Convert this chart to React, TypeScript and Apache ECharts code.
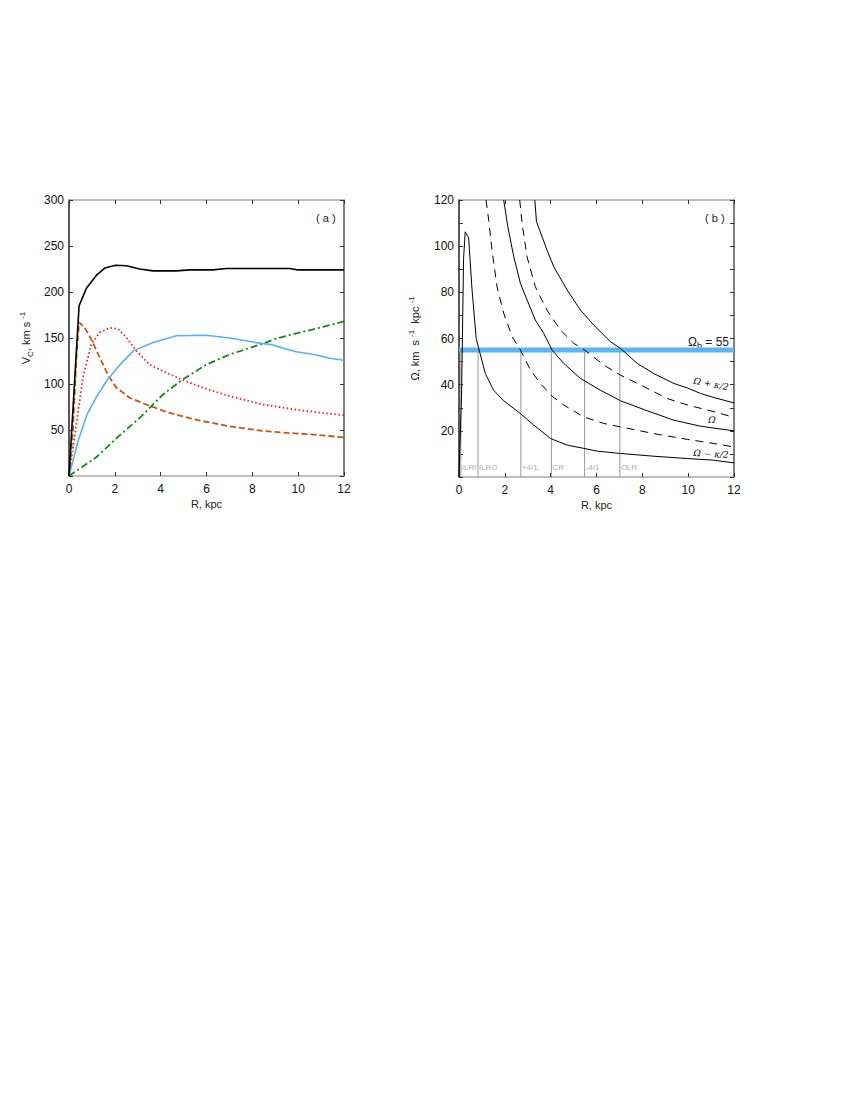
import React, { useEffect, useRef } from "react";
import * as echarts from "echarts";

// ---- Panel (a): rotation curve components, [R kpc, V km/s]
const totalV = [[0,0],[0.44,185],[0.76,204],[1.19,218],[1.56,226],[2.04,229],[2.5,228.5],[3.08,225],[3.67,223],[4.68,223],[5.27,224],[6.28,224],[6.87,225.6],[9.63,225.6],[10,224],[12,224]];
const diskV = [[0,0],[0.39,37.5],[0.79,67],[1.2,86],[1.63,103],[2.07,116.7],[2.8,136],[3.67,145],[4.68,152.4],[5.99,153],[7.0,150],[8.17,145],[8.9,142.5],[9.34,139],[9.92,135],[10.8,131.6],[11.37,128],[12,125.8]];
const bulgeV = [[0,0],[0.32,56],[0.61,107],[0.97,143],[1.34,156],[1.77,161],[2.14,160],[2.5,150.6],[2.94,136],[3.52,121],[4.1,114],[4.9,105],[5.85,96],[7.0,86.8],[8.47,77.7],[9.92,72],[11.08,68.5],[12,66]];
const nucleusV = [[0,0],[0.17,48],[0.32,128],[0.44,167],[0.68,161.5],[0.97,148.7],[1.34,128.7],[1.7,110],[2.07,96],[2.65,85],[3.37,77.7],[4.39,68.5],[5.56,61],[7.0,54],[8.47,49],[9.63,46.7],[10.36,45.6],[12,42]];
const haloV = [[0,0],[1.19,20.4],[2.07,41],[3.08,63],[4.1,88.6],[4.97,105],[5.99,121],[7.0,132],[8.47,144],[9.05,149.5],[9.92,155],[11.08,162],[12,168]];

// ---- Panel (b): angular velocities, [R kpc, km/s/kpc]
const omegaMinusK2 = [[0,0],[0.11,35],[0.2,94.7],[0.27,106.2],[0.42,103.6],[0.57,81],[0.75,60],[0.86,55.7],[1.15,44.8],[1.51,37.6],[1.95,33],[2.68,27.5],[3.26,22.5],[3.99,16.7],[4.72,13.8],[5.45,12.4],[6.03,11.2],[7.05,10.2],[8.5,9],[9.96,8],[11.1,7.3],[12,6.1]];
const omega = [[1.95,120],[2.13,108.4],[2.39,95.4],[2.68,83.9],[2.97,76.7],[3.33,68],[3.7,62.2],[4.06,55],[4.57,49.2],[5.3,42.7],[6.17,37.6],[7.05,33],[8.21,28.7],[9.38,24.6],[10.54,22],[12,20]];
const omegaPlusK2 = [[3.31,120],[3.38,110.6],[3.84,98.3],[4.14,91],[4.72,81],[5.3,72.3],[5.88,65.8],[6.61,58.6],[7.05,55.7],[7.78,49.2],[8.5,44.8],[9.38,40.5],[9.96,38.6],[10.54,36.2],[11.13,34.4],[12,32.1]];
const omegaMinusK4 = [[1.18,120],[1.3,111],[1.44,98.3],[1.66,82.4],[1.95,70.9],[2.32,60.8],[2.68,55],[3.12,46.3],[3.55,40.5],[4.06,35],[4.57,31.2],[5.45,26],[6.32,23.2],[7.05,21.7],[8.5,18.8],[9.96,16.3],[11.13,14.5],[12,13]];
const omegaPlusK4 = [[2.65,120],[2.75,110],[2.97,95.4],[3.33,82.4],[3.84,72.3],[4.43,63.6],[5.01,57.9],[5.48,55],[6.32,48.5],[7.05,44.1],[8.07,39.1],[9.09,34],[9.96,31.2],[11.13,28.3],[12,25.8]];

const patternSpeed = 55;
const resonanceR = [0.08, 0.83, 2.7, 4.03, 5.48, 7.02];
const resonanceLabels = ["ILRI", "ILRO", "+4/1", "CR", "-4/1", "OLR"];
const labelY = 4;

const xTicksMax = 12;

const FONT = "'Liberation Sans', Arial, sans-serif";
const SERIF = "'DejaVu Serif', 'Liberation Serif', serif";

export default function App() {
  const ref = useRef<HTMLDivElement>(null);
  useEffect(() => {
    if (!ref.current) return;
    const chart = echarts.init(ref.current, null, { renderer: "svg" });

    const xBottom = (grid: number) => ({
      type: "value", gridIndex: grid, min: 0, max: xTicksMax, interval: 2, position: "bottom",
      name: "R, kpc", nameLocation: "middle", nameGap: 22,
      nameTextStyle: { fontFamily: FONT, fontSize: 11, color: "#222" },
      axisLine: { show: true, onZero: false, lineStyle: { color: "#aaa", width: 1.5 } },
      axisTick: { show: true, inside: true, length: 4, lineStyle: { color: "#333" } },
      axisLabel: { fontFamily: FONT, fontSize: 12, color: "#111", margin: 7 },
      splitLine: { show: false },
    });
    const xTop = (grid: number) => ({
      type: "value", gridIndex: grid, min: 0, max: xTicksMax, interval: 2, position: "top",
      axisLine: { show: true, onZero: false, lineStyle: { color: "#aaa", width: 1.5 } },
      axisTick: { show: true, inside: true, length: 4, lineStyle: { color: "#333" } },
      axisLabel: { show: false }, splitLine: { show: false },
    });

    const lineS = (data: number[][], color: string, width: number, type: any, xi: number, yi: number, extra: any = {}) => ({
      type: "line", data, xAxisIndex: xi, yAxisIndex: yi, symbol: "none", smooth: false,
      lineStyle: { color, width, type }, silent: true, z: 3, ...extra,
    });

    const resonanceLines = resonanceR.map((r) => ({
      type: "line", data: [[r, 0], [r, patternSpeed]], xAxisIndex: 2, yAxisIndex: 2,
      symbol: "none", lineStyle: { color: "#999", width: 1 }, silent: true, z: 2,
    }));

    const option: any = {
      animation: false,
      backgroundColor: "#fff",
      grid: [
        { left: 69, top: 200, width: 275, height: 276 },
        { left: 459, top: 200, width: 275, height: 277 },
      ],
      xAxis: [xBottom(0), xTop(0), xBottom(1), xTop(1)],
      yAxis: [
        {
          type: "value", gridIndex: 0, min: 0, max: 300, interval: 50, position: "left",
          name: "{a|V}{sub|C}{a|, km s }{sup|-1}", nameLocation: "middle", nameGap: 35, nameRotate: 90,
          nameTextStyle: {
            fontFamily: FONT, fontSize: 11, color: "#222",
            rich: {
              a: { fontFamily: FONT, fontSize: 11, color: "#222" },
              sub: { fontFamily: FONT, fontSize: 8, color: "#222", padding: [8, 0, 0, 0] },
              sup: { fontFamily: FONT, fontSize: 8, color: "#222", padding: [0, 0, 8, 0] },
            },
          },
          axisLine: { show: true, onZero: false, lineStyle: { color: "#222", width: 1.5 } },
          axisTick: { show: true, inside: true, length: 4, lineStyle: { color: "#333" } },
          axisLabel: { fontFamily: FONT, fontSize: 12, color: "#111", margin: 5, formatter: (v: number) => (v === 0 ? "" : String(v)) },
          splitLine: { show: false },
        },
        {
          type: "value", gridIndex: 0, min: 0, max: 300, interval: 50, position: "right",
          axisLine: { show: true, onZero: false, lineStyle: { color: "#555", width: 1.5 } },
          axisTick: { show: true, inside: true, length: 4, lineStyle: { color: "#333" } },
          axisLabel: { show: false }, splitLine: { show: false },
        },
        {
          type: "value", gridIndex: 1, min: 0, max: 120, interval: 10, position: "left",
          name: "{a|Ω, km  s }{sup|-1}{a|  kpc }{sup|-1}", nameLocation: "middle", nameGap: 36, nameRotate: 90,
          nameTextStyle: {
            fontFamily: FONT, fontSize: 11, color: "#222",
            rich: {
              a: { fontFamily: FONT, fontSize: 11, color: "#222" },
              sup: { fontFamily: FONT, fontSize: 8, color: "#222", padding: [0, 0, 8, 0] },
            },
          },
          axisLine: { show: true, onZero: false, lineStyle: { color: "#222", width: 1.5 } },
          axisTick: { show: true, inside: true, length: 4, lineStyle: { color: "#333" } },
          axisLabel: { fontFamily: FONT, fontSize: 12, color: "#111", margin: 5, formatter: (v: number) => (v === 0 || v % 20 !== 0 ? "" : String(v)) },
          splitLine: { show: false },
        },
        {
          type: "value", gridIndex: 1, min: 0, max: 120, interval: 10, position: "right",
          axisLine: { show: true, onZero: false, lineStyle: { color: "#555", width: 1.5 } },
          axisTick: { show: true, inside: true, length: 4, lineStyle: { color: "#333" } },
          axisLabel: { show: false }, splitLine: { show: false },
        },
      ],
      series: [
        lineS(haloV, "#138a13", 1.8, [7, 3, 2, 3], 0, 0),
        lineS(nucleusV, "#c8560f", 1.8, [6, 3], 0, 0),
        lineS(bulgeV, "#ff1a1a", 1.8, [1.5, 2.5], 0, 0),
        lineS(diskV, "#55b4f2", 1.6, "solid", 0, 0),
        lineS(totalV, "#000", 1.6, "solid", 0, 0),
        ...resonanceLines,
        lineS([[0, patternSpeed], [12, patternSpeed]], "#5ab6f2", 5, "solid", 2, 2, { z: 1 }),
        lineS(omegaMinusK2, "#000", 1, "solid", 2, 2),
        lineS(omega, "#000", 1, "solid", 2, 2),
        lineS(omegaPlusK2, "#000", 1, "solid", 2, 2),
        lineS(omegaMinusK4, "#000", 1, [8, 6], 2, 2),
        lineS(omegaPlusK4, "#000", 1, [8, 6], 2, 2),
        {
          type: "scatter", xAxisIndex: 2, yAxisIndex: 2, symbolSize: 0, silent: true,
          data: resonanceR.map((r, i) => ({ value: [r, labelY], name: resonanceLabels[i] })),
          label: {
            show: true, position: "right", distance: 1, formatter: (p: any) => p.name,
            fontFamily: FONT, fontSize: 8, color: "#999",
          },
        },
      ],
      graphic: [
        { type: "text", left: 316, top: 212, style: { text: "( a )", font: `11px ${FONT}`, fill: "#222" } },
        { type: "text", left: 705, top: 212, style: { text: "( b )", font: `11px ${FONT}`, fill: "#222" } },
        {
          type: "text", x: 729, y: 342,
          style: {
            text: "{a|Ω}{sub|b}{a| = 55}", align: "right", verticalAlign: "middle",
            rich: {
              a: { font: `12px ${FONT}`, fill: "#222" },
              sub: { font: `9px ${FONT}`, fill: "#222", padding: [8, 0, 0, 0] },
            },
          },
        },
        { type: "text", x: 711, y: 384, rotation: -0.2, style: { text: "Ω + κ/2", font: `italic 9px ${SERIF}`, fill: "#111", align: "center", verticalAlign: "middle" } },
        { type: "text", x: 712, y: 420, rotation: -0.1, style: { text: "Ω", font: `italic 9px ${SERIF}`, fill: "#111", align: "center", verticalAlign: "middle" } },
        { type: "text", x: 711, y: 454, rotation: -0.05, style: { text: "Ω − κ/2", font: `italic 9px ${SERIF}`, fill: "#111", align: "center", verticalAlign: "middle" } },
      ],
    };
    chart.setOption(option);
    return () => chart.dispose();
  }, []);
  return <div ref={ref} style={{ position: "absolute", left: 0, top: 0, width: 850, height: 1100 }} />;
}
